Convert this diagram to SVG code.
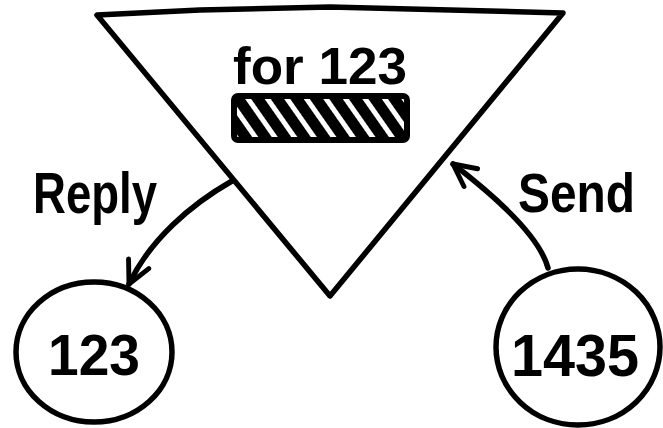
<svg xmlns="http://www.w3.org/2000/svg" width="663" height="428" viewBox="0 0 663 428">
<style>
.ln{fill:none;stroke:#000;stroke-width:5.5;stroke-linecap:round;stroke-linejoin:round}
.tx{font-family:"Liberation Sans","DejaVu Sans",sans-serif;font-weight:bold;fill:#000}
</style>
<defs>
<pattern id="hatch" patternUnits="userSpaceOnUse" width="16" height="16" patternTransform="rotate(-35)">
<rect width="16" height="16" fill="#000"/>
<rect x="0" y="0" width="5" height="16" fill="#fff"/>
</pattern>
<marker id="ah2" viewBox="0 0 20 20" refX="18" refY="10" markerWidth="28" markerHeight="28" orient="auto" markerUnits="userSpaceOnUse">
<path d="M2,2 L18,10 L2,18" fill="none" stroke="#000" stroke-width="3.5" stroke-linecap="round" stroke-linejoin="round"/>
</marker>
</defs>
<rect width="663" height="428" fill="#fff"/>
<g id="loop">
<path class="ln" d="M97,15 L200,10 L330,7 L450,10 L563,13 L330,296 Z"/>
<text class="tx" x="320" y="84" font-size="52" text-anchor="middle" textLength="174" lengthAdjust="spacingAndGlyphs">for 123</text>
<rect x="234" y="96" width="173" height="44" rx="4" fill="url(#hatch)" stroke="#000" stroke-width="6"/>
</g>
<g id="node-123">
<ellipse class="ln" cx="94" cy="352" rx="78" ry="70"/>
<text class="tx" x="94" y="375" font-size="58" text-anchor="middle" textLength="92" lengthAdjust="spacingAndGlyphs">123</text>
</g>
<g id="node-1435">
<ellipse class="ln" cx="578" cy="347" rx="82" ry="78"/>
<text class="tx" x="575" y="376" font-size="60" text-anchor="middle" textLength="128" lengthAdjust="spacingAndGlyphs">1435</text>
</g>
<g id="connectors">
<path class="ln" d="M232,181 C190,205 150,240 129,284" marker-end="url(#ah2)"/>
<text class="tx" x="33" y="213" font-size="58" textLength="124" lengthAdjust="spacingAndGlyphs">Reply</text>
<path class="ln" d="M548,268 C540,238 500,200 453,164" marker-end="url(#ah2)"/>
<text class="tx" x="518" y="212" font-size="56" textLength="117" lengthAdjust="spacingAndGlyphs">Send</text>
</g>
</svg>
